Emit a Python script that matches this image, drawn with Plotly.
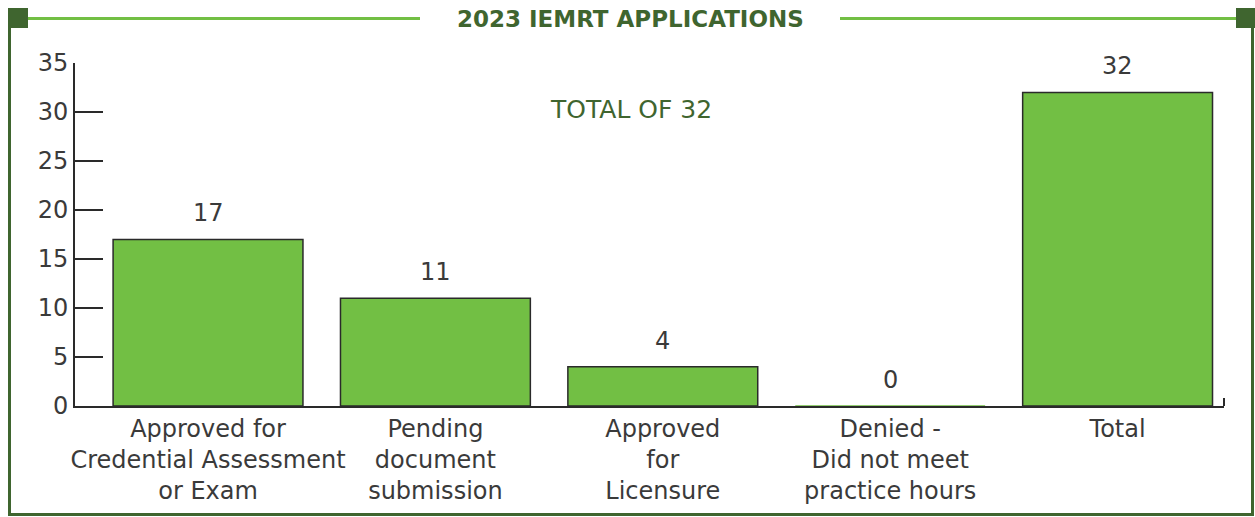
import plotly.graph_objects as go

categories = [
    "Approved for<br>Credential Assessment<br>or Exam",
    "Pending<br>document<br>submission",
    "Approved<br>for<br>Licensure",
    "Denied -<br>Did not meet<br>practice hours",
    "Total",
]
values = [17, 11, 4, 0, 32]
y_ticks = [0, 5, 10, 15, 20, 25, 30, 35]
title_text = "2023 IEMRT APPLICATIONS"
note_text = "TOTAL OF 32"

BAR = "#72bf44"
DARK = "#3f652f"
TXT = "#3a3a3a"
FONT = "DejaVu Sans"

W, H = 1255, 517

outline = [BAR if v == 0 else "#2a2a2a" for v in values]

fig = go.Figure()
fig.add_trace(go.Bar(
    x=list(range(len(categories))),
    y=values,
    width=0.835,
    marker=dict(color=BAR, line=dict(color=outline, width=1.5)),
    hoverinfo="skip",
))

for i, v in enumerate(values):
    fig.add_annotation(x=i, y=v, text=str(v), showarrow=False, yanchor="bottom",
                       yshift=10, font=dict(size=24, color=TXT, family=FONT))


def px(x):
    return (x - 75) / (1224 - 75)


def py(y):
    return (406 - y) / 343


fig.add_annotation(x=px(631), xref="paper", y=py(110), yref="paper", yanchor="middle",
                   text=note_text, showarrow=False,
                   font=dict(size=25, color=DARK, family=FONT))

fig.add_annotation(x=px(630), xref="paper", y=py(19), yref="paper", yanchor="middle",
                   text="<b>" + title_text + "</b>", showarrow=False,
                   font=dict(size=23, color=DARK, family=FONT))

shapes = []
shapes.append(dict(type="line", xref="paper", yref="paper", x0=px(28), x1=px(420), y0=py(18.5), y1=py(18.5),
                   line=dict(color=BAR, width=3)))
shapes.append(dict(type="line", xref="paper", yref="paper", x0=px(840), x1=px(1236), y0=py(18.5), y1=py(18.5),
                   line=dict(color=BAR, width=3)))
shapes.append(dict(type="line", xref="paper", yref="paper", x0=px(9.5), x1=px(9.5), y0=py(20), y1=py(514.5),
                   line=dict(color=DARK, width=3)))
shapes.append(dict(type="line", xref="paper", yref="paper", x0=px(1252.5), x1=px(1252.5), y0=py(20), y1=py(514.5),
                   line=dict(color=DARK, width=3)))
shapes.append(dict(type="line", xref="paper", yref="paper", x0=px(8), x1=px(1254), y0=py(514.5), y1=py(514.5),
                   line=dict(color=DARK, width=3)))
shapes.append(dict(type="rect", xref="paper", yref="paper", x0=px(8), x1=px(28), y0=py(8), y1=py(28),
                   fillcolor=DARK, line=dict(width=0)))
shapes.append(dict(type="rect", xref="paper", yref="paper", x0=px(1236), x1=px(1255), y0=py(8), y1=py(28),
                   fillcolor=DARK, line=dict(width=0)))
shapes.append(dict(type="line", xref="paper", yref="paper", x0=1, x1=1, y0=0, y1=py(398),
                   line=dict(color="#2a2a2a", width=2)))

fig.update_layout(
    width=W, height=H,
    margin=dict(l=75, r=31, t=63, b=111),
    paper_bgcolor="white", plot_bgcolor="white",
    showlegend=False,
    shapes=shapes,
    font=dict(family=FONT, color=TXT, size=24),
)
fig.update_xaxes(
    range=[-0.585, 4.468],
    tickmode="array", tickvals=list(range(len(categories))), ticktext=categories,
    showline=True, linecolor="#2a2a2a", linewidth=2,
    ticks="", showgrid=False, zeroline=False, fixedrange=True,
    tickfont=dict(size=24, color=TXT, family=FONT),
)
fig.update_yaxes(
    range=[0, 35], tickmode="array", tickvals=y_ticks,
    showline=True, linecolor="#2a2a2a", linewidth=2,
    ticks="inside", ticklen=28, tickwidth=2, tickcolor="#2a2a2a",
    showgrid=False, zeroline=False, fixedrange=True,
    tickfont=dict(size=24, color=TXT, family=FONT),
)

fig.write_html("out.html", config={"displayModeBar": False},
               post_script="document.body.style.margin='0';document.body.style.overflow='hidden';")
